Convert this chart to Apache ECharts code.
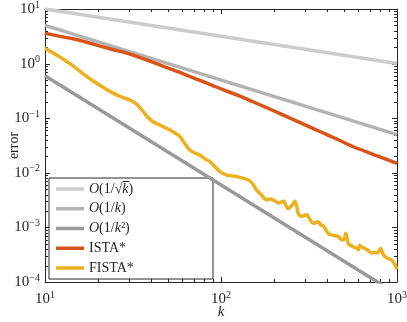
<!DOCTYPE html>
<html>
<head>
<meta charset="utf-8">
<script src="https://cdn.jsdelivr.net/npm/echarts@6/dist/echarts.min.js"></script>
<style>
html, body { margin: 0; padding: 0; background: #fff; }
#chart { width: 407px; height: 322px; }
</style>
</head>
<body>
<div id="chart"></div>
<script>
// series names, in legend order
const seriesNames = ['O(1/√k)', 'O(1/k)', 'O(1/k²)', 'ISTA*', 'FISTA*'];
const seriesColors = ['#cccccc', '#b3b3b3', '#999999', '#d95319', '#edb120'];

// reference rates, [k, error] end points
const rateSqrt = [[10, 10], [1000, 1]];
const rateK = [[10, 5], [1000, 0.05]];
const rateK2 = [[10, 0.6], [1000, 0.00006]];

const ista = [
  [10, 3.6], [12, 3.19], [15.5, 2.7], [19, 2.25], [23.9, 1.83], [29.7, 1.52], [37, 1.2],
  [46, 0.92], [57, 0.71], [72, 0.526], [88.5, 0.405], [105, 0.324], [125, 0.263],
  [152, 0.2], [190, 0.146], [236, 0.107], [290, 0.0795], [365, 0.057], [450, 0.042],
  [565, 0.03], [750, 0.0211], [1000, 0.0149]
];

const fista = [
  [10, 1.9], [12, 1.35], [14.5, 0.9], [17, 0.6], [18.8, 0.48], [21, 0.38], [23.4, 0.31],
  [26.7, 0.25], [30.4, 0.215], [32.5, 0.19], [34.7, 0.155], [37, 0.12], [39.5, 0.095],
  [42, 0.083], [45, 0.075], [48, 0.067], [51.3, 0.061], [55, 0.053], [58.5, 0.046],
  [62, 0.035], [66.7, 0.026], [71, 0.023], [76, 0.021], [81, 0.018], [86.6, 0.016],
  [92, 0.013], [98.6, 0.0105], [107.6, 0.0091], [115, 0.0088], [122.7, 0.0085],
  [133, 0.008], [143, 0.0074], [150, 0.0065], [159.5, 0.0048], [170, 0.0039],
  [182, 0.0032], [190, 0.0033], [198, 0.0032], [212, 0.0028], [226, 0.003],
  [241, 0.0022], [252, 0.0025], [263, 0.003], [275, 0.0018], [287, 0.0016],
  [307, 0.0017], [320, 0.0014], [334, 0.00119], [357, 0.00127], [370, 0.0011],
  [381, 0.00106], [395, 0.0009], [410, 0.00075], [426, 0.00073], [445, 0.0007],
  [464, 0.00068], [486, 0.00059], [500, 0.0006], [512, 0.00078], [528, 0.00051],
  [545, 0.00047], [565, 0.00044], [590, 0.00042], [603, 0.00039], [614, 0.00047],
  [635, 0.00043], [658, 0.00041], [690, 0.00037], [718, 0.00034], [745, 0.00035],
  [773, 0.00034], [807, 0.00041], [830, 0.00033], [855, 0.00029], [890, 0.00027],
  [934, 0.00025], [965, 0.00022], [1000, 0.00017]
];

// tick positions
const xMajor = [10, 100, 1000];
const xMinor = [20, 30, 40, 50, 60, 70, 80, 90, 200, 300, 400, 500, 600, 700, 800, 900];
const yMajor = [0.0001, 0.001, 0.01, 0.1, 1, 10];
const yMinor = [];
[0.0001, 0.001, 0.01, 0.1, 1].forEach(d => {
  for (let m = 2; m <= 9; m++) yMinor.push(d * m);
});

const xMin = 10, xMax = 1000, yMin = 0.0001, yMax = 10;
const axisColor = '#262626';
const fontFamily = 'Liberation Serif';

const supRich = {
  b: { fontFamily, fontSize: 15, color: axisColor, lineHeight: 17 },
  s: { fontFamily, fontSize: 10, color: axisColor, padding: [0, 0, 8, 0] }
};
function powLabel(v) {
  const e = Math.round(Math.log10(v));
  return '{b|10}{s|' + (e < 0 ? '\u2212' + (-e) : e) + '}';
}

const legendText = {
  'O(1/√k)': '{i|O}(1/√{i|k\u0305})',
  'O(1/k)': '{i|O}(1/{i|k})',
  'O(1/k²)': '{i|O}(1/{i|k}²)',
  'ISTA*': 'ISTA*',
  'FISTA*': 'FISTA*'
};

function frameAxis(pos, min, max, opts) {
  return Object.assign({
    type: 'log',
    logBase: 10,
    min, max,
    position: pos,
    axisLine: { show: true, onZero: false, lineStyle: { color: axisColor, width: 1 } },
    axisTick: { show: false },
    axisLabel: { show: false },
    splitLine: { show: false },
    minorTick: { show: false }
  }, opts);
}

// tick marks drawn as a custom series so they go through the log scales
const xTickRows = xMajor.map(v => [v, yMin, 5]).concat(xMinor.map(v => [v, yMin, 3]));
const yTickRows = yMajor.map(v => [xMin, v, 5]).concat(yMinor.map(v => [xMin, v, 3]));

function tickLine(x1, y1, x2, y2) {
  return {
    type: 'line',
    shape: { x1, y1, x2, y2 },
    style: { stroke: axisColor, lineWidth: 1 }
  };
}
function renderXTick(params, api) {
  const v = api.value(0), len = api.value(2);
  const b = api.coord([v, yMin]), t = api.coord([v, yMax]);
  const x = Math.round(b[0]) + 0.5;
  return { type: 'group', children: [tickLine(x, b[1], x, b[1] - len), tickLine(x, t[1], x, t[1] + len)] };
}
function renderYTick(params, api) {
  const v = api.value(1), len = api.value(2);
  const l = api.coord([xMin, v]), r = api.coord([xMax, v]);
  const y = Math.round(l[1]) + 0.5;
  return { type: 'group', children: [tickLine(l[0], y, l[0] + len, y), tickLine(r[0], y, r[0] - len, y)] };
}

const chart = echarts.init(document.getElementById('chart'));
const allData = [rateSqrt, rateK, rateK2, ista, fista];

const lineSeries = seriesNames.map((name, i) => ({
  name,
  type: 'line',
  xAxisIndex: 0,
  yAxisIndex: 0,
  data: allData[i],
  showSymbol: false,
  symbol: 'none',
  smooth: i >= 3 ? 0.3 : false,
  itemStyle: { color: seriesColors[i] },
  lineStyle: { color: seriesColors[i], width: 3.5 },
  z: 2 + i
}));

chart.setOption({
  animation: false,
  backgroundColor: '#fff',
  grid: { left: 45, right: 10, top: 9, bottom: 40, containLabel: false, outerBoundsMode: 'none' },
  xAxis: [
    frameAxis('bottom', xMin, xMax, {
      axisLabel: { show: true, margin: 8, formatter: powLabel, rich: supRich },
      name: 'k', nameLocation: 'middle', nameGap: 23, nameMoveOverlap: false,
      nameTextStyle: { fontFamily, fontStyle: 'italic', fontSize: 15, color: axisColor }
    }),
    frameAxis('top', xMin, xMax, {})
  ],
  yAxis: [
    frameAxis('left', yMin, yMax, {
      axisLabel: { show: true, margin: 5, formatter: powLabel, rich: supRich },
      name: 'error', nameLocation: 'middle', nameGap: 24, nameMoveOverlap: false,
      nameTextStyle: { fontFamily, fontSize: 14, color: axisColor }
    }),
    frameAxis('right', yMin, yMax, {})
  ],
  legend: {
    orient: 'vertical',
    left: 49, top: 178,
    padding: [3, 4, 3, 7],
    itemGap: 3.75,
    itemWidth: 28, itemHeight: 3.5,
    icon: 'rect',
    backgroundColor: '#fff',
    borderColor: axisColor, borderWidth: 1, borderRadius: 0,
    data: seriesNames,
    formatter: name => legendText[name],
    textStyle: {
      fontFamily, fontSize: 14, color: axisColor, width: 120, lineHeight: 16,
      rich: { i: { fontFamily, fontSize: 14, fontStyle: 'italic', color: axisColor, lineHeight: 16 } }
    }
  },
  series: lineSeries.concat([
    {
      name: 'xTicks', type: 'custom', xAxisIndex: 0, yAxisIndex: 0,
      silent: true, clip: false, z: 1,
      encode: { x: 0, y: 1 },
      data: xTickRows, renderItem: renderXTick
    },
    {
      name: 'yTicks', type: 'custom', xAxisIndex: 0, yAxisIndex: 0,
      silent: true, clip: false, z: 1,
      encode: { x: 0, y: 1 },
      data: yTickRows, renderItem: renderYTick
    }
  ])
});
</script>
</body>
</html>
